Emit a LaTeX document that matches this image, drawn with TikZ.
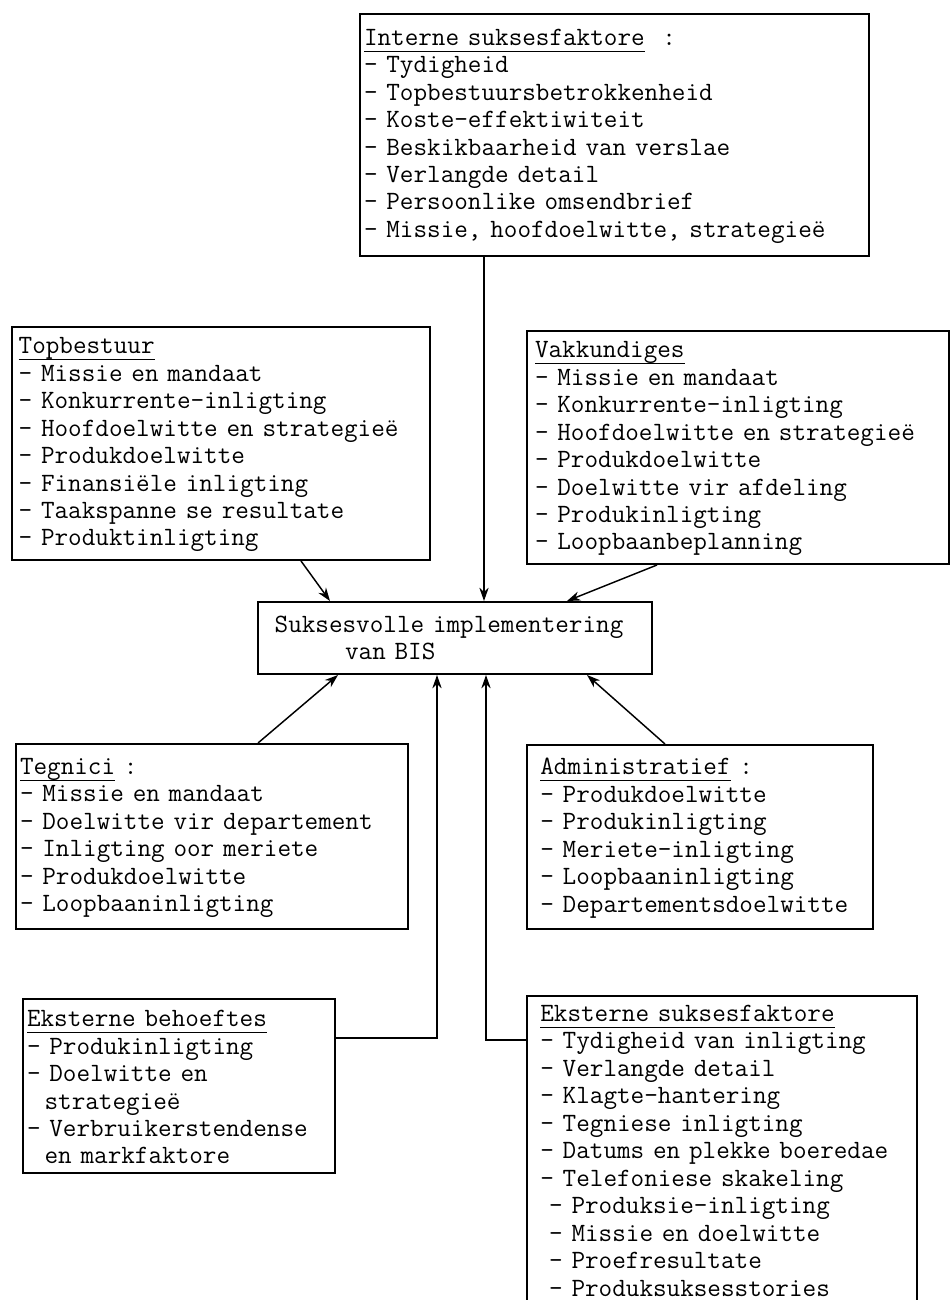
\documentclass[tikz,border=0pt]{standalone}
\usetikzlibrary{arrows.meta,positioning,calc}

\newcommand{\titel}[1]{\underline{\smash{#1}\vrule width 0pt height 14pt depth 3pt}}

\begin{document}
\begin{tikzpicture}[
        x=0.75pt, y=-0.75pt,
        box/.style={rectangle, draw, line width=1.5pt, anchor=north west, align=left, inner xsep=3pt, inner ysep=6pt, font=\fontsize{19.8}{20.6}\selectfont\ttfamily},
        arrow/.style={-{Stealth[length=10pt, width=7pt]}, line width=1.1pt}
    ]
        \useasboundingbox (0,0) rectangle (952,1300);
        \clip (0,0) rectangle (952,1300);

        % Interne suksesfaktore
        \node[box, text width=375.75pt, minimum height=181.5pt] (intern) at (359,13) {\titel{Interne suksesfaktore}\ \ :\\- Tydigheid\\- Topbestuursbetrokkenheid\\- Koste-effektiwiteit\\- Beskikbaarheid van verslae\\- Verlangde detail\\- Persoonlike omsendbrief\\- Missie, hoofdoelwitte, strategieë};

        % Topbestuur
        \node[box, inner xsep=5pt, text width=303.5pt, minimum height=171.75pt] (topb) at (11,326) {\titel{Topbestuur}\\- Missie en mandaat\\- Konkurrente-inligting\\- Hoofdoelwitte en strategieë\\- Produkdoelwitte\\- Finansiële inligting\\- Taakspanne se resultate\\- Produktinligting};

        % Vakkundiges
        \node[box, inner xsep=6pt, text width=304.5pt, minimum height=170.25pt] (vakk) at (526,330) {\titel{Vakkundiges}\\- Missie en mandaat\\- Konkurrente-inligting\\- Hoofdoelwitte en strategieë\\- Produkdoelwitte\\- Doelwitte vir afdeling\\- Produkinligting\\- Loopbaanbeplanning};

        % Suksesvolle implementering
        \node[box, inner xsep=12.5pt, text width=270.5pt, minimum height=54pt] (sukses) at (257,601) {Suksesvolle implementering\\~~~~~~~~van BIS};

        % Tegnici
        \node[box, text width=288pt, minimum height=138.75pt] (tegn) at (15,743) {\titel{Tegnici} :\\- Missie en mandaat\\- Doelwitte vir departement\\- Inligting oor meriete\\- Produkdoelwitte\\- Loopbaaninligting};

        % Administratief
        \node[box, inner xsep=10pt, text width=239.5pt, minimum height=138pt] (admin) at (526,744) {\titel{Administratief} :\\- Produkdoelwitte\\- Produkinligting\\- Meriete-inligting\\- Loopbaaninligting\\- Departementsdoelwitte};

        % Eksterne behoeftes
        \node[box, text width=228pt, minimum height=130.5pt] (behoef) at (22,998) {\titel{Eksterne behoeftes}\\- Produkinligting\\- Doelwitte en\\~~strategieë\\- Verbruikerstendense\\~~en markfaktore};

        % Eksterne suksesfaktore (runs off the bottom of the page)
        \node[box, inner xsep=10pt, inner ysep=5pt, text width=272.5pt] (ekst) at (526,995) {\titel{Eksterne suksesfaktore}\\- Tydigheid van inligting\\- Verlangde detail\\- Klagte-hantering\\- Tegniese inligting\\- Datums en plekke boeredae\\- Telefoniese skakeling\\~- Produksie-inligting\\~- Missie en doelwitte\\~- Proefresultate\\~- Produksuksesstories\vrule width 0pt depth 24pt};

        % Connections into the centre box
        \draw[arrow] ($(intern.south west)+(125,0)$) -- ($(sukses.north west)+(227,0)$);
        \draw[arrow] ($(topb.south west)+(290,0)$) -- ($(sukses.north west)+(73,0)$);
        \draw[arrow] ($(vakk.south west)+(131,0)$) -- ($(sukses.north west)+(310,0)$);
        \draw[arrow] ($(tegn.north west)+(243,0)$) -- ($(sukses.south west)+(81,0)$);
        \draw[arrow] ($(admin.north west)+(139,0)$) -- ($(sukses.south west)+(330,0)$);
        \draw[arrow] ($(behoef.north east)+(0,40)$) -| ($(sukses.south west)+(180,0)$);
        \draw[arrow] ($(ekst.north west)+(0,45)$) -| ($(sukses.south west)+(229,0)$);

    \end{tikzpicture}
\end{document}
